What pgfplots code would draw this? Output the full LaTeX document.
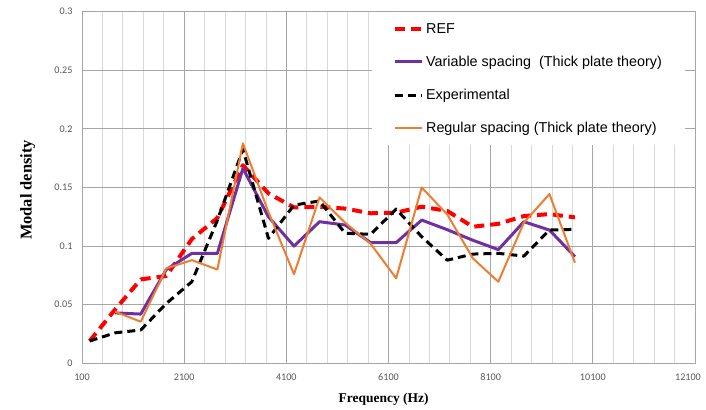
\documentclass[border=0pt]{standalone}
\usepackage{pgfplots}
\pgfplotsset{compat=1.18}
\usepackage{fontspec}
\setmainfont{Liberation Sans}
\newfontfamily\tickfont{Carlito}
\newfontfamily\labelfont{Liberation Serif}
\definecolor{refred}{HTML}{FF0000}
\definecolor{varpurple}{HTML}{7030A0}
\definecolor{regorange}{HTML}{ED7D31}
\definecolor{majgrid}{HTML}{A6A6A6}
\definecolor{mingrid}{HTML}{D9D9D9}
\definecolor{ticktext}{HTML}{595959}
\begin{document}
\begin{tikzpicture}
\useasboundingbox (0,0) rectangle (706bp,410bp);
\begin{axis}[
  at={(82bp,46.7bp)}, anchor=south west,
  scale only axis, width=613bp, height=351.6bp,
  xmin=100, xmax=12100, ymin=0, ymax=0.3,
  scaled x ticks=false, scaled y ticks=false,
  xtick={100,2100,4100,6100,8100,10100,12100},
  xticklabels={100,2100,4100,6100,8100,10100,\makebox[0pt][c]{\kern-14bp 12100}},
  minor xtick={500,900,1300,1700,2500,2900,3300,3700,4500,4900,5300,5700,6500,6900,7300,7700,8500,8900,9300,9700,10500,10900,11300,11700},
  ytick={0,0.05,0.1,0.15,0.2,0.25,0.3},
  yticklabels={0,0.05,0.1,0.15,0.2,0.25,0.3},
  grid=both,
  major grid style={draw=majgrid, line width=0.8bp},
  minor grid style={draw=mingrid, line width=0.8bp},
  major tick length=0pt, minor tick length=0pt,
  axis line style={draw=majgrid, line width=0.8bp},
  tick label style={font=\tickfont\fontsize{10.2}{12}\selectfont, text=ticktext},
  xticklabel style={yshift=-7bp},
  yticklabel style={xshift=-6bp},
  xlabel={\labelfont\bfseries\fontsize{13.5}{15}\selectfont Frequency (Hz)},
  xlabel style={at={(rel axis cs:0.492,0)}, anchor=center, yshift=-35.7bp},
  ylabel={\labelfont\bfseries\fontsize{16.5}{18}\selectfont Modal density},
  ylabel style={at={(rel axis cs:-0.0885,0.493)}, anchor=center},
  legend cell align=left,
  legend style={at={(rel axis cs:0.473,0.999)}, anchor=north west, draw=none, fill=white,
    font=\fontsize{14.4}{16}\selectfont, inner xsep=21bp, inner ysep=9bp, row sep=17.3bp,
    nodes={inner sep=2bp}},
  legend image code/.code={\draw[#1] (0bp,0bp) -- (27bp,0bp);},
  line join=round,
]
\addplot[refred, line width=4bp, dash pattern=on 10bp off 6bp] coordinates {
(250,0.019) (750,0.046) (1250,0.0716) (1750,0.0745) (2250,0.106) (2750,0.124) (3250,0.169) (3750,0.145) (4250,0.133) (4750,0.1336) (5250,0.132) (5750,0.128) (6250,0.1285) (6750,0.1336) (7250,0.130) (7750,0.1165) (8250,0.119) (8750,0.1256) (9250,0.1273) (9750,0.1245)};
\addlegendentry{REF}
\addplot[varpurple, line width=3bp] coordinates {
(750,0.043) (1250,0.042) (1750,0.080) (2250,0.0938) (2750,0.0938) (3250,0.1663) (3750,0.125) (4250,0.100) (4750,0.1208) (5250,0.118) (5750,0.103) (6250,0.103) (6750,0.1222) (7250,0.114) (7750,0.105) (8250,0.097) (8750,0.1208) (9250,0.1137) (9750,0.091)};
\addlegendentry{Variable spacing\ \ (Thick plate theory)}
\addplot[black, line width=3bp, dash pattern=on 8bp off 5bp] coordinates {
(250,0.019) (750,0.026) (1250,0.0284) (1750,0.051) (2250,0.0696) (2750,0.122) (3250,0.1825) (3750,0.1066) (4250,0.135) (4750,0.1385) (5250,0.111) (5750,0.110) (6250,0.1316) (6750,0.108) (7250,0.088) (7750,0.0932) (8250,0.0938) (8750,0.0915) (9250,0.1137) (9750,0.1143)};
\addlegendentry{Experimental}
\addplot[regorange, line width=2bp] coordinates {
(750,0.044) (1250,0.0355) (1750,0.081) (2250,0.088) (2750,0.080) (3250,0.1877) (3750,0.129) (4250,0.076) (4750,0.1416) (5250,0.12) (5750,0.102) (6250,0.0725) (6750,0.150) (7250,0.127) (7750,0.0896) (8250,0.0696) (8750,0.12) (9250,0.1444) (9750,0.0858)};
\addlegendentry{Regular spacing (Thick plate theory)}
\end{axis}
\end{tikzpicture}
\end{document}
